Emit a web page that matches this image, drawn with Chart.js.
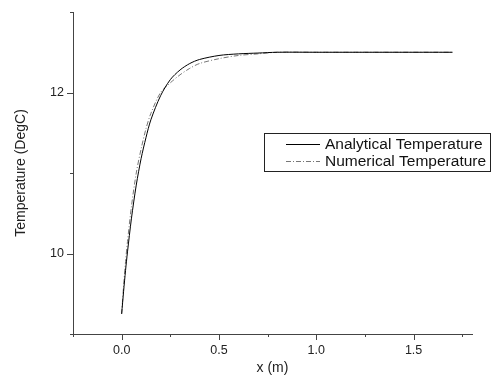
<!DOCTYPE html>
<html>
<head>
<meta charset="utf-8">
<script src="https://cdn.jsdelivr.net/npm/chart.js@4.4.1/dist/chart.umd.min.js"></script>
<style>
  html, body { margin: 0; padding: 0; background: #fff; }
  #wrap { width: 492px; height: 381px; }
</style>
</head>
<body>
<div id="wrap"><canvas id="chart"></canvas></div>
<script>
// values
const xValues = [0, 0.01, 0.02, 0.03, 0.05, 0.075, 0.1, 0.125, 0.15, 0.2, 0.25, 0.3, 0.35, 0.4, 0.5, 0.6, 0.7, 0.8, 1.0, 1.2, 1.4, 1.7];
const analyticalTemp = [9.25, 9.53, 9.79, 10.02, 10.43, 10.85, 11.18, 11.44, 11.66, 11.96, 12.16, 12.28, 12.36, 12.41, 12.46, 12.48, 12.49, 12.5, 12.5, 12.5, 12.5, 12.5];
const numericalTemp = [9.25, 9.6, 9.9, 10.15, 10.58, 11.0, 11.3, 11.55, 11.74, 12.0, 12.12, 12.22, 12.3, 12.36, 12.42, 12.46, 12.48, 12.5, 12.5, 12.5, 12.5, 12.5];
const seriesNames = ['Analytical Temperature', 'Numerical Temperature'];
const xMajorTicks = [0, 0.5, 1.0, 1.5];
const xMinorTicks = [-0.25, 0.25, 0.75, 1.25, 1.75];
const yMajorTicks = [10, 12];
const yMinorTicks = [9, 11, 13];

const FONT = 'Liberation Sans, Arial, sans-serif';
const AXIS = '#444';

function toPoints(ys) {
    return xValues.map((x, i) => ({ x: x, y: ys[i] }));
}

const tickPlugin = {
    id: 'ticks',
    afterDraw(chart) {
        const ctx = chart.ctx;
        const xs = chart.scales.x;
        const ys = chart.scales.y;
        const area = chart.chartArea;
        ctx.save();
        ctx.strokeStyle = AXIS;
        ctx.lineWidth = 1;
        ctx.beginPath();
        xMajorTicks.forEach(v => {
            const px = Math.round(xs.getPixelForValue(v)) + 0.5;
            ctx.moveTo(px, area.bottom); ctx.lineTo(px, area.bottom + 6);
        });
        xMinorTicks.forEach(v => {
            const px = Math.round(xs.getPixelForValue(v)) + 0.5;
            ctx.moveTo(px, area.bottom); ctx.lineTo(px, area.bottom + 3);
        });
        yMajorTicks.forEach(v => {
            const py = Math.round(ys.getPixelForValue(v)) + 0.5;
            ctx.moveTo(area.left, py); ctx.lineTo(area.left - 6, py);
        });
        yMinorTicks.forEach(v => {
            const py = Math.round(ys.getPixelForValue(v)) + 0.5;
            ctx.moveTo(area.left, py); ctx.lineTo(area.left - 3, py);
        });
        ctx.stroke();
        ctx.restore();
    }
};

const legendPlugin = {
    id: 'boxLegend',
    afterDraw(chart) {
        const ctx = chart.ctx;
        const left = 264.5, top = 133.5, w = 226, h = 38;
        ctx.save();
        ctx.strokeStyle = '#222';
        ctx.lineWidth = 1;
        ctx.strokeRect(left, top, w, h);
        ctx.font = '15.5px ' + FONT;
        ctx.textBaseline = 'middle';
        chart.data.datasets.forEach((ds, i) => {
            const cy = top + 10 + i * 17;
            ctx.beginPath();
            ctx.strokeStyle = ds.borderColor;
            ctx.setLineDash(ds.borderDash || []);
            ctx.moveTo(286, Math.round(cy) + 0.5);
            ctx.lineTo(320, Math.round(cy) + 0.5);
            ctx.stroke();
            ctx.setLineDash([]);
            ctx.fillStyle = '#111';
            ctx.fillText(ds.label, 325, cy + 1);
        });
        ctx.restore();
    }
};

new Chart(document.getElementById('chart'), {
    type: 'scatter',
    data: {
        datasets: [
            {
                label: seriesNames[0],
                data: toPoints(analyticalTemp),
                showLine: true,
                borderColor: '#000',
                borderWidth: 1,
                pointRadius: 0,
                tension: 0.3
            },
            {
                label: seriesNames[1],
                data: toPoints(numericalTemp),
                showLine: true,
                borderColor: '#777',
                borderDash: [5, 2, 1, 2],
                borderWidth: 1,
                pointRadius: 0,
                tension: 0.3
            }
        ]
    },
    options: {
        responsive: true,
        maintainAspectRatio: false,
        animation: false,
        layout: { padding: { left: 0, right: 20, top: 12, bottom: 0 } },
        plugins: {
            legend: { display: false },
            tooltip: { enabled: false }
        },
        scales: {
            x: {
                type: 'linear',
                min: -0.25,
                max: 1.8,
                afterFit(scale) {
                    scale.height = 47;
                    scale.paddingLeft = 0;
                    scale.paddingRight = 0;
                },
                afterBuildTicks(scale) { scale.ticks = xMajorTicks.map(v => ({ value: v })); },
                grid: { display: false, drawTicks: false },
                border: { display: true, color: AXIS, width: 1 },
                ticks: {
                    padding: 9,
                    color: '#222',
                    font: { family: FONT, size: 12.5 },
                    callback: v => v.toFixed(1)
                },
                title: {
                    display: true,
                    text: 'x (m)',
                    color: '#222',
                    font: { family: FONT, size: 14 },
                    padding: { top: 4 }
                }
            },
            y: {
                type: 'linear',
                min: 9,
                max: 13,
                afterFit(scale) {
                    scale.width = 73;
                    scale.paddingTop = 0;
                    scale.paddingBottom = 0;
                },
                afterBuildTicks(scale) { scale.ticks = yMajorTicks.map(v => ({ value: v })); },
                grid: { display: false, drawTicks: false },
                border: { display: true, color: AXIS, width: 1 },
                ticks: {
                    padding: 9,
                    color: '#222',
                    font: { family: FONT, size: 12.5 },
                    callback: v => String(v)
                },
                title: {
                    display: true,
                    text: 'Temperature (DegC)',
                    color: '#222',
                    font: { family: FONT, size: 14 },
                    padding: { top: 13, bottom: 0 }
                }
            }
        }
    },
    plugins: [tickPlugin, legendPlugin]
});
</script>
</body>
</html>
